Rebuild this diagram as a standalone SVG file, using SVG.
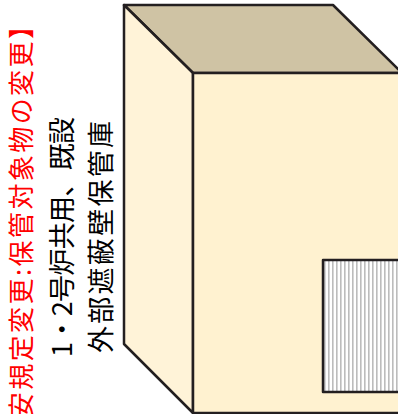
<svg xmlns="http://www.w3.org/2000/svg" width="398" height="414" viewBox="0 0 398 414">
  <defs>
    <pattern id="stripes" width="4" height="4" patternUnits="userSpaceOnUse">
      <rect width="4" height="4" fill="#ffffff"/>
      <rect x="0" width="1.6" height="4" fill="#bcbcbc"/>
    </pattern>
    <style>
      .edge { stroke: #231f20; stroke-width: 2.5; stroke-linejoin: round; }
      .jp { font-family: "Noto Sans CJK JP", "Noto Sans", sans-serif; }
      .title { fill: #ff0000; font-size: 26px; }
      .label { fill: #000000; font-size: 27px; }
    </style>
  </defs>
  <rect width="398" height="414" fill="#ffffff"/>

  <!-- storage building drawn as a box -->
  <g id="storage-box">
    <polygon class="edge" points="124,5 333,5 402,73 193,73" fill="#cfc3a4"/>
    <polygon class="edge" points="124,5 193,73 193,413 124,344" fill="#fff3d8"/>
    <polygon class="edge" points="193,73 402,73 402,413 193,413" fill="#fff2d0"/>
  </g>

  <!-- striped panel on the front face -->
  <g id="panel">
    <rect class="edge" x="323" y="260" width="90" height="132" fill="url(#stripes)"/>
  </g>

  <!-- rotated captions -->
  <g id="caption-change">
    <text class="jp title" transform="translate(31,475) rotate(-90)" textLength="462" lengthAdjust="spacing">【保安規定変更:保管対象物の変更】</text>
  </g>
  <g id="caption-name">
    <text class="jp label" transform="translate(72,357) rotate(-90)" textLength="240" lengthAdjust="spacing">1・2号炉共用、既設</text>
    <text class="jp label" transform="translate(111,353) rotate(-90)" textLength="232" lengthAdjust="spacing">外部遮蔽壁保管庫</text>
  </g>
</svg>
